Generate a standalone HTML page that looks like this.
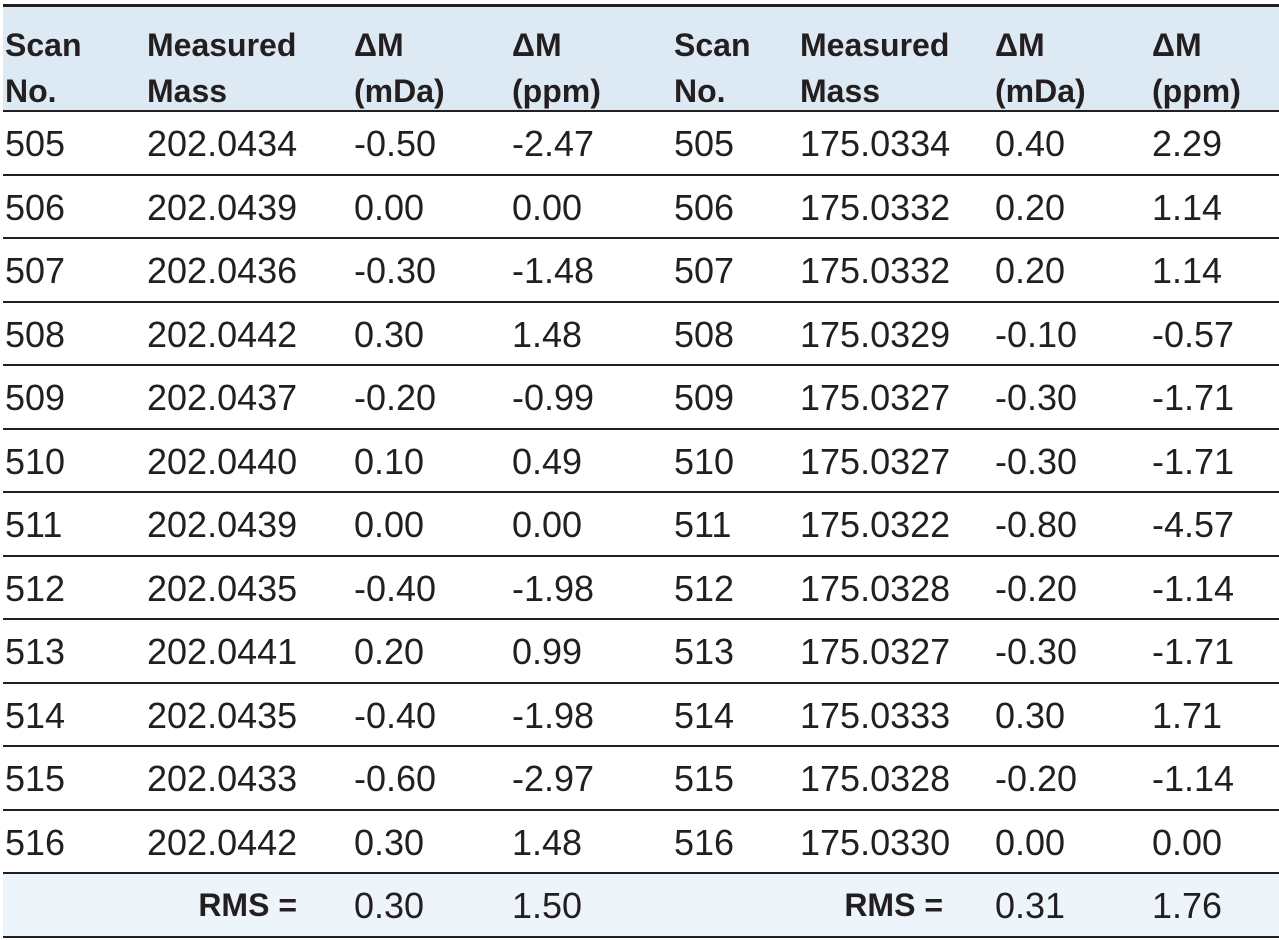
<!DOCTYPE html>
<html><head><meta charset="utf-8">
<style>
body{margin:0;width:1279px;height:940px;background:#fff;font-family:"Liberation Sans",sans-serif;color:#231f20;position:relative;overflow:hidden}
.hdr{position:absolute;left:3px;top:4px;width:1276px;height:108px;background:#dde9f3;border-top:3px solid #231f20;border-bottom:2px solid #231f20;box-sizing:border-box}
.h{position:absolute;top:15px;font-weight:bold;font-size:32px;line-height:46px}
.row{position:absolute;left:3px;width:1276px;height:63.5px;border-bottom:2px solid #231f20;box-sizing:border-box}
.c{position:absolute;font-size:36px;line-height:63px;top:0}
.rms{background:#edf4fa}
.lbl{font-weight:bold;font-size:32px}
</style></head><body>
<div class="hdr">
<div class="h" style="left:2px">Scan<br>No.</div>
<div class="h" style="left:144px">Measured<br>Mass</div>
<div class="h" style="left:351px">ΔM<br>(mDa)</div>
<div class="h" style="left:509px">ΔM<br>(ppm)</div>
<div class="h" style="left:671px">Scan<br>No.</div>
<div class="h" style="left:797px">Measured<br>Mass</div>
<div class="h" style="left:992px">ΔM<br>(mDa)</div>
<div class="h" style="left:1149px">ΔM<br>(ppm)</div>
</div>
<div id="body"></div>
<script>
const scans=["505","506","507","508","509","510","511","512","513","514","515","516"];
const massA=["202.0434","202.0439","202.0436","202.0442","202.0437","202.0440","202.0439","202.0435","202.0441","202.0435","202.0433","202.0442"];
const mdaA=["-0.50","0.00","-0.30","0.30","-0.20","0.10","0.00","-0.40","0.20","-0.40","-0.60","0.30"];
const ppmA=["-2.47","0.00","-1.48","1.48","-0.99","0.49","0.00","-1.98","0.99","-1.98","-2.97","1.48"];
const massB=["175.0334","175.0332","175.0332","175.0329","175.0327","175.0327","175.0322","175.0328","175.0327","175.0333","175.0328","175.0330"];
const mdaB=["0.40","0.20","0.20","-0.10","-0.30","-0.30","-0.80","-0.20","-0.30","0.30","-0.20","0.00"];
const ppmB=["2.29","1.14","1.14","-0.57","-1.71","-1.71","-4.57","-1.14","-1.71","1.71","-1.14","0.00"];
const xs=[2,144,351,509,671,797,992,1149];
const body=document.getElementById('body');
function cell(row,x,t,name){const d=document.createElement('div');d.className='c';d.style.left=x+'px';d.textContent=t;


row.appendChild(d);return d;}
scans.forEach((s,i)=>{
 const r=document.createElement('div');r.className='row';r.style.top=(112+i*63.5)+'px';
 
 
 const vals=[s,massA[i],mdaA[i],ppmA[i],s,massB[i],mdaB[i],ppmB[i]];
 const nm=['scan','mass','dm-mda','dm-ppm','scan-2','mass-2','dm-mda-2','dm-ppm-2'];
 vals.forEach((v,j)=>cell(r,xs[j],v,nm[j]+'-cell'));
 body.appendChild(r);
});
const rr=document.createElement('div');rr.className='row rms';rr.style.top=(112+12*63.5)+'px';


let l1=cell(rr,200,'RMS =','rms-label');l1.classList.add('lbl');l1.style.left='';l1.style.right=(1276-294)+'px';
cell(rr,351,'0.30','rms-mda');cell(rr,509,'1.50','rms-ppm');
let l2=cell(rr,800,'RMS =','rms-label-2');l2.classList.add('lbl');l2.style.left='';l2.style.right=(1276-940)+'px';
cell(rr,992,'0.31','rms-mda-2');cell(rr,1149,'1.76','rms-ppm-2');
body.appendChild(rr);
</script>
</body></html>
